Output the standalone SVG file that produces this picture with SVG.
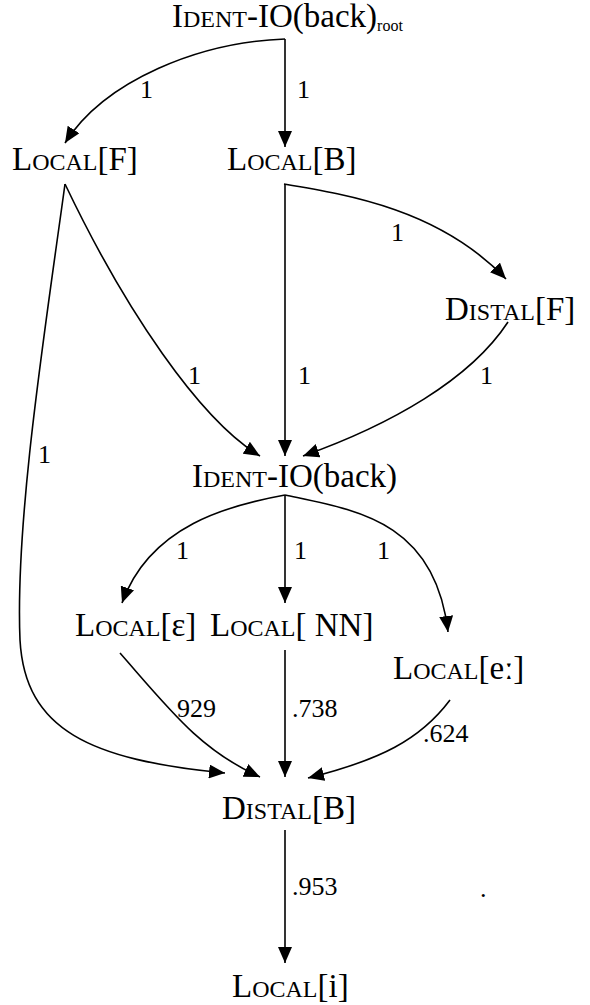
<svg xmlns="http://www.w3.org/2000/svg" width="590" height="1005" viewBox="0 0 590 1005">
<defs>
<marker id="ah" markerUnits="userSpaceOnUse" markerWidth="16" markerHeight="14" refX="16" refY="7" orient="auto">
<path d="M0,0 L16,7 L0,14 z" fill="#000"/>
</marker>
</defs>
<rect width="590" height="1005" fill="#fff"/>
<g id="connectors" fill="none" stroke="#000" stroke-width="1.6" marker-end="url(#ah)">
<path d="M285,39 C200,42 105,80 65,143"/>
<path d="M285,39 V147"/>
<path d="M65,184 C125,310 200,420 260,456"/>
<path d="M65,184 C45,330 15,520 20,640 C25,730 90,760 225,773"/>
<path d="M284,184 C350,195 440,210 506,279"/>
<path d="M285,184 V456"/>
<path d="M508,322 C470,380 390,425 303,456"/>
<path d="M285,495 C230,505 150,525 122,603"/>
<path d="M285,495 V603"/>
<path d="M285,495 C355,510 435,520 448,632"/>
<path d="M120,653 C170,710 200,750 260,777"/>
<path d="M285,650 V777"/>
<path d="M450,700 C420,740 380,760 308,778"/>
<path d="M285,830 V963"/>
</g>
<g id="edge-labels" fill="#000">
<text x="140" y="98" font-family="Liberation Serif" font-size="26">1</text>
<text x="297" y="98" font-family="Liberation Serif" font-size="26">1</text>
<text x="391" y="241" font-family="Liberation Serif" font-size="26">1</text>
<text x="188" y="384" font-family="Liberation Serif" font-size="26">1</text>
<text x="298" y="384" font-family="Liberation Serif" font-size="26">1</text>
<text x="480" y="384" font-family="Liberation Serif" font-size="26">1</text>
<text x="38" y="463" font-family="Liberation Serif" font-size="26">1</text>
<text x="176" y="559" font-family="Liberation Serif" font-size="26">1</text>
<text x="294" y="559" font-family="Liberation Serif" font-size="26">1</text>
<text x="377" y="559" font-family="Liberation Serif" font-size="26">1</text>
<text x="177" y="717" font-family="Liberation Serif" font-size="26">929</text>
<text x="292" y="717" font-family="Liberation Serif" font-size="26">.738</text>
<text x="423" y="742" font-family="Liberation Serif" font-size="26">.624</text>
<text x="292" y="895" font-family="Liberation Serif" font-size="26">.953</text>
<text x="480" y="897" font-family="Liberation Serif" font-size="26">.</text>
</g>
<g id="ident-root"><text x="172" y="27" font-family="Liberation Serif" font-size="33">I<tspan font-size="24">DENT</tspan>-IO(back)<tspan font-size="16" dy="4">root</tspan></text></g>
<g id="local-f"><text x="12" y="170" font-family="Liberation Serif" font-size="33">L<tspan font-size="24">OCAL</tspan>[F]</text></g>
<g id="local-b"><text x="227" y="170" font-family="Liberation Serif" font-size="33">L<tspan font-size="24">OCAL</tspan>[B]</text></g>
<g id="distal-f"><text x="445" y="320" font-family="Liberation Serif" font-size="33">D<tspan font-size="24">ISTAL</tspan>[F]</text></g>
<g id="ident"><text x="192" y="487" font-family="Liberation Serif" font-size="33">I<tspan font-size="24">DENT</tspan>-IO(back)</text></g>
<g id="local-eps"><text x="75" y="636" font-family="Liberation Serif" font-size="33">L<tspan font-size="24">OCAL</tspan>[&#603;]</text></g>
<g id="local-nn"><text x="210" y="636" font-family="Liberation Serif" font-size="33">L<tspan font-size="24">OCAL</tspan>[ NN]</text></g>
<g id="local-ee"><text x="393" y="679" font-family="Liberation Serif" font-size="33">L<tspan font-size="24">OCAL</tspan>[e&#720;]</text></g>
<g id="distal-b"><text x="222" y="819" font-family="Liberation Serif" font-size="33">D<tspan font-size="24">ISTAL</tspan>[B]</text></g>
<g id="local-i"><text x="232" y="997" font-family="Liberation Serif" font-size="33">L<tspan font-size="24">OCAL</tspan>[i]</text></g>
</svg>
